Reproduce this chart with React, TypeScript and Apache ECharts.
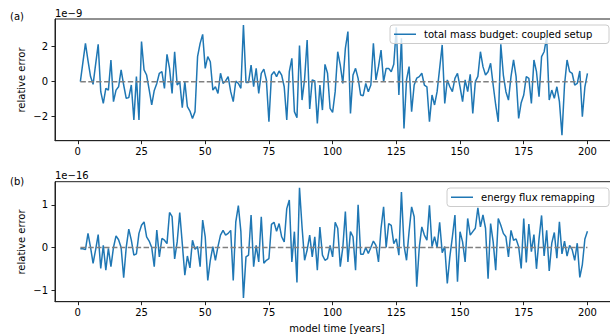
import React, { useEffect, useRef } from "react";
import * as echarts from "echarts";

const massBudget: number[] = [
  0.0, 1.1, 2.19, 1.2, 0.29, -0.15, 1.0, 2.13, -0.57, -1.24,
  -0.38, -0.48, 1.24, -1.14, -0.48, -0.29, 0.67, -0.19, -0.95, -0.91,
  -0.19, -2.19, 0.29, -2.19, 2.29, 0.67, 0.38, -0.45, -1.33, -0.5,
  -0.1, 0.48, 0.57, -0.38, 1.56, 0.76, -0.67, 1.71, -0.19, 0.0,
  -1.49, 0.0, -1.43, -1.68, -2.1, -1.71, 1.43, 2.19, 2.7, 0.76,
  1.43, 1.14, -0.48, -0.29, -0.67, 0.48, -0.1, 0.04, 0.29, -0.57,
  -1.14, 0.04, -0.1, -0.38, 3.24, -0.04, -0.04, 0.95, -0.29, 0.76,
  -0.67, 0.48, 0.72, 0.1, -2.29, 0.38, 0.57, 0.29, 0.61, 0.38,
  -0.29, -2.19, 0.57, 1.33, -1.71, -2.06, 2.06, -1.05, 0.15, 2.38,
  -1.56, 0.1, 0.04, -2.38, -0.19, -1.62, 0.99, 0.48, -1.52, -1.75,
  -0.57, 1.71, 0.95, -0.1, 1.9, 2.86, -1.81, 0.38, 0.76, 0.19,
  -0.76, -0.8, -0.1, -0.57, -0.19, 2.19, 0.1, 0.86, 1.81, 0.0,
  0.76, 0.76, 0.57, 1.0, 3.1, -0.76, 2.48, -2.67, 0.1, 0.86,
  -1.71, -0.19, 0.2, 0.29, 0.48, -0.19, -0.29, -2.29, -0.76, -1.33,
  -0.57, 0.76, 2.1, -1.24, 0.1, -0.29, -0.57, 0.19, 0.48, -0.29,
  -1.14, 0.1, -0.57, 0.42, -1.81, 0.0, 0.3, 1.71, 0.86, 0.38,
  0.57, 1.05, -0.19, -1.33, -2.29, 2.13, 0.38, -0.57, -1.05, 0.29,
  1.24, 0.29, -2.1, -1.2, -0.76, 0.29, 0.19, -1.24, 1.24, 0.57,
  -0.86, 1.43, 1.71, 2.55, -1.05, -0.48, -0.95, -0.29, -1.14, -3.05,
  -0.19, 1.24, 0.57, 0.48, -0.19, -0.1, 0.61, -2.0, -0.29, 0.48,
];

const energyFlux: number[] = [
  -0.03, -0.03, -0.05, 0.33, 0.0, -0.37, -0.05, 0.3, -0.49, 0.05,
  -0.53, -0.02, -0.45, 0.0, 0.27, 0.18, 0.0, -0.71, 0.0, 0.43,
  0.17, -0.18, -0.15, 0.33, 0.52, 0.6, 0.25, 0.15, 0.0, -0.45,
  0.41, -0.22, 0.21, 0.17, 0.09, 0.82, 0.72, -0.27, 0.13, 0.82,
  0.09, -0.65, -0.2, -0.48, 0.17, -0.04, 0.02, -0.45, 0.64, 0.25,
  -0.77, -0.3, 0.02, -0.3, 0.02, 0.29, 0.4, 0.29, 0.33, 0.4,
  -0.77, 0.6, 0.98, 0.37, -1.18, -0.22, -0.18, 0.76, -0.45, 0.05,
  -0.34, 0.72, -0.37, -0.3, -0.26, 0.54, 0.59, 0.38, 0.56, 0.25,
  0.13, 0.91, 1.11, -0.34, 0.37, -0.82, 1.4, 0.48, -0.3, -0.06,
  0.29, -0.22, 0.25, -0.53, 0.48, -0.18, -0.3, -0.26, 0.05, -0.22,
  0.59, 0.45, -0.45, 0.0, 0.84, -0.34, 0.37, 0.25, -0.53, 1.0,
  -0.16, -0.16, 0.0, -0.14, 0.0, 0.15, 0.05, -0.34, 0.45, 0.95,
  0.0, 0.56, 0.52, 0.09, 0.2, -0.18, 1.3, 0.05, -0.3, 0.37,
  0.95, 0.72, -0.92, 0.0, 0.48, 0.29, 0.17, 0.99, 0.02, 0.25,
  0.0, 0.59, -0.12, 0.02, -0.84, -0.22, 0.25, 0.76, -0.8, 0.37,
  0.13, -0.34, 0.68, 0.29, 0.37, 0.45, 0.93, 0.48, 0.76, 0.45,
  -0.73, 0.56, 0.13, -0.53, 0.68, 0.52, 0.33, 0.25, -0.22, 0.4,
  0.17, 0.2, 0.02, -0.49, 0.68, -0.35, 0.55, -0.1, 0.3, -0.5,
  0.2, 0.75, -0.2, 0.4, -0.55, 0.1, 0.35, -0.25, 0.6, -0.15,
  0.15, -0.2, 0.05, -0.05, -0.3, 0.1, -0.7, -0.4, 0.2, 0.38,
];

const years: number[] = massBudget.map((_, i) => i + 1);
const xTicks: number[] = [0, 25, 50, 75, 100, 125, 150, 175, 200];
const yTicksTop: number[] = [-2, 0, 2];
const yTicksBottom: number[] = [-1, 0, 1];

const FONT = "DejaVu Sans";
const BLUE = "#1f77b4";
const SPINE = "#222";

const fmt = (v: number) => (v < 0 ? "\u2212" + Math.abs(v) : String(v));

function makeX(gridIndex: number) {
  return {
    type: "value",
    gridIndex,
    min: -8.95,
    max: 209.95,
    axisLine: { show: true, onZero: false, lineStyle: { color: SPINE, width: 1 } },
    axisTick: { show: true, length: 3.5, lineStyle: { color: SPINE, width: 1 }, customValues: xTicks },
    axisLabel: { color: "#000", fontSize: 10, fontFamily: FONT, margin: 6, customValues: xTicks },
    splitLine: { show: false },
  };
}

function makeY(gridIndex: number, min: number, max: number, ticks: number[]) {
  return {
    type: "value",
    gridIndex,
    min,
    max,
    axisLine: { show: true, onZero: false, lineStyle: { color: SPINE, width: 1 } },
    axisTick: { show: true, length: 3.5, lineStyle: { color: SPINE, width: 1 }, customValues: ticks },
    axisLabel: { color: "#000", fontSize: 10, fontFamily: FONT, margin: 7, customValues: ticks, formatter: fmt },
    splitLine: { show: false },
  };
}

function dataLine(vals: number[], idx: number) {
  return {
    type: "line",
    xAxisIndex: idx,
    yAxisIndex: idx,
    data: years.map((y, i) => [y, vals[i]]),
    showSymbol: false,
    symbol: "none",
    lineStyle: { color: BLUE, width: 1.5 },
    z: 2,
  };
}

function zeroLine(idx: number) {
  return {
    type: "line",
    xAxisIndex: idx,
    yAxisIndex: idx,
    data: [[years[0], 0], [years[years.length - 1], 0]],
    showSymbol: false,
    symbol: "none",
    lineStyle: { color: "#808080", width: 1.5, type: [5.5, 2.4] },
    z: 3,
  };
}

function txt(text: string, x: number, y: number, extra: any = {}) {
  return {
    type: "text",
    x,
    y,
    z: 50,
    style: { text, fill: "#000", font: `10px '${FONT}'`, verticalAlign: "middle", align: "left", ...extra },
  };
}

function legend(x: number, y: number, w: number, h: number, label: string) {
  return [
    {
      type: "rect",
      z: 100,
      shape: { x, y, width: w, height: h, r: 3 },
      style: { fill: "rgba(255,255,255,0.8)", stroke: "#cccccc", lineWidth: 1 },
    },
    {
      type: "line",
      z: 101,
      shape: { x1: x + 4, y1: y + h / 2, x2: x + 26, y2: y + h / 2 },
      style: { stroke: BLUE, lineWidth: 1.5 },
    },
    {
      type: "text",
      z: 101,
      x: x + 34,
      y: y + h / 2,
      style: { text: label, fill: "#000", font: `10px '${FONT}'`, verticalAlign: "middle", align: "left" },
    },
  ];
}

export default function App() {
  const ref = useRef<HTMLDivElement>(null);
  useEffect(() => {
    if (!ref.current) return;
    const chart = echarts.init(ref.current, null, { renderer: "svg" });
    chart.setOption({
      animation: false,
      backgroundColor: "#fff",
      grid: [
        { left: 55, top: 19, width: 557.8, height: 121.7, show: true, borderColor: SPINE, borderWidth: 1, outerBoundsMode: "none" },
        { left: 55, top: 181.7, width: 557.8, height: 120, show: true, borderColor: SPINE, borderWidth: 1, outerBoundsMode: "none" },
      ],
      xAxis: [makeX(0), makeX(1)],
      yAxis: [makeY(0, -3.37, 3.58, yTicksTop), makeY(1, -1.27, 1.54, yTicksBottom)],
      series: [dataLine(massBudget, 0), zeroLine(0), dataLine(energyFlux, 1), zeroLine(1)],
      graphic: [
        txt("(a)", 10, 16),
        txt("1e\u22129", 55, 13),
        txt("(b)", 10, 181),
        txt("1e\u221216", 55, 175),
        { ...txt("relative error", 21, 80, { align: "center" }), rotation: Math.PI / 2 },
        { ...txt("relative error", 21, 242, { align: "center" }), rotation: Math.PI / 2 },
        txt("model time [years]", 337, 328, { align: "center" }),
        ...legend(390, 25, 219, 18.5, "total mass budget: coupled setup"),
        ...legend(447, 188, 162, 18.5, "energy flux remapping"),
      ],
    });
    return () => chart.dispose();
  }, []);
  return <div ref={ref} style={{ position: "fixed", left: 0, top: 0, width: 610, height: 336 }} />;
}
